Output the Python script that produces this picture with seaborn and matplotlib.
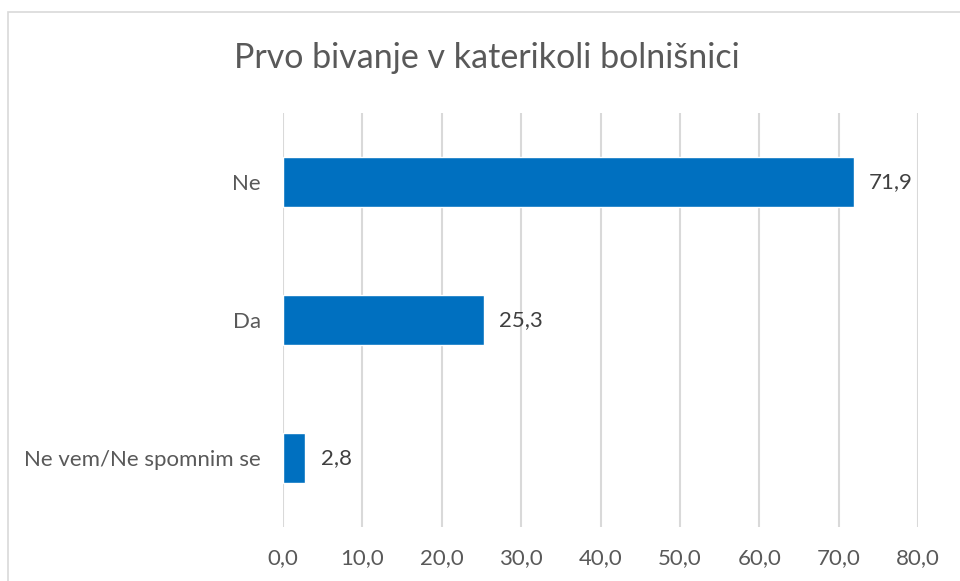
import pandas as pd
import seaborn as sns
import matplotlib.pyplot as plt
from matplotlib.patches import Rectangle

categories = ['Ne', 'Da', 'Ne vem/Ne spomnim se']
values = [71.9, 25.3, 2.8]
x_ticks = [0, 10, 20, 30, 40, 50, 60, 70, 80]

df = pd.DataFrame({'kategorija': categories, 'odstotek': values})

bar_color = '#0070C0'
text_color = '#595959'
grid_color = '#D9D9D9'

sns.set_theme(style='white')
plt.rcParams['font.family'] = ['Lato', 'DejaVu Sans']

fig = plt.figure(figsize=(9.6, 5.81), dpi=100)
fig.patch.set_facecolor('white')
ax = fig.add_axes([0.2948, 0.0929, 0.6615, 0.7126])

sns.barplot(data=df, x='odstotek', y='kategorija', orient='h',
            color=bar_color, saturation=1, width=0.36, ax=ax)

ax.set_xlim(0, 80)
ax.set_xticks(x_ticks)
ax.set_xticklabels([f'{t:.1f}'.replace('.', ',') for t in x_ticks])
ax.set_xlabel('')
ax.set_ylabel('')
ax.grid(axis='x', color=grid_color, linewidth=1.5)
ax.set_axisbelow(True)
for s in ax.spines.values():
    s.set_visible(False)
ax.tick_params(axis='x', length=0, pad=15, labelsize=16, labelcolor=text_color)
ax.tick_params(axis='y', length=0, pad=16, labelsize=16, labelcolor=text_color)

ax.bar_label(ax.containers[0], labels=[f'{v:.1f}'.replace('.', ',') for v in values],
             padding=11, fontsize=16, color='#404040')

fig.text(0.507, 1 - 58 / 581, 'Prvo bivanje v katerikoli bolnišnici',
         ha='center', va='center', fontsize=24.5, color=text_color)

# okvir grafa
fig.patches.append(Rectangle((8 / 960, -0.05), 1.0, 1 - 12 / 581 + 0.05,
                             transform=fig.transFigure, fill=False,
                             edgecolor='#D9D9D9', linewidth=1.2))

fig.savefig('out.png', dpi=100)
